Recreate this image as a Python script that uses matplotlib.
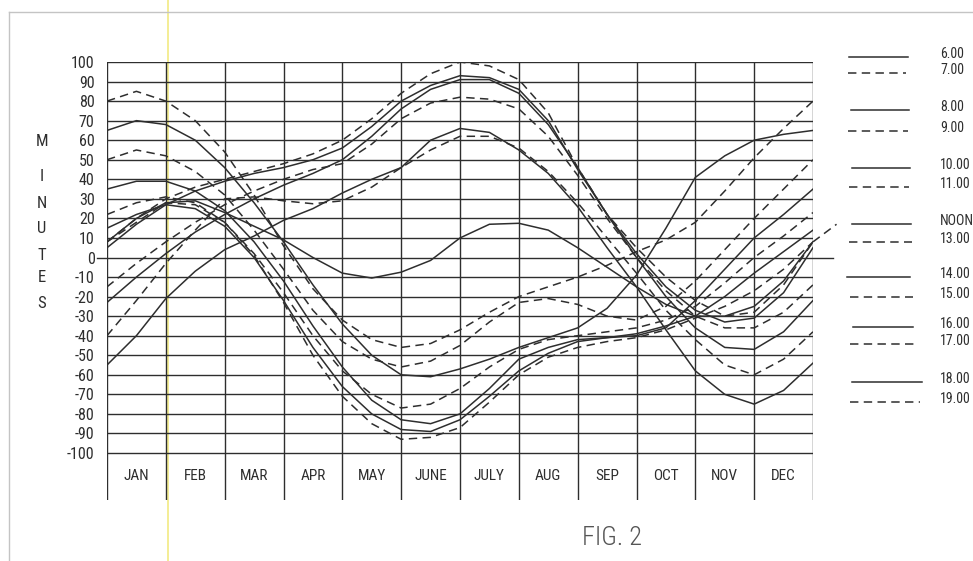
import matplotlib
matplotlib.use("Agg")
import matplotlib.pyplot as plt
from matplotlib.lines import Line2D

# ---------------- data ----------------
months = ["JAN", "FEB", "MAR", "APR", "MAY", "JUNE", "JULY", "AUG", "SEP", "OCT", "NOV", "DEC"]
y_ticks = list(range(-100, 101, 10))
hours = ["6.00", "7.00", "8.00", "9.00", "10.00", "11.00", "NOON",
         "13.00", "14.00", "15.00", "16.00", "17.00", "18.00", "19.00"]
# sample positions (months from start of Jan), half-month steps
t = [i * 0.5 for i in range(25)]

h06 = [65, 70, 68, 60, 46, 28, 8, -14, -34, -50, -60, -61, -57, -52, -46, -41, -36, -26, -9, 15, 41, 52, 60, 63, 65]
h07 = [80, 85, 80, 70, 54, 32, 6, -16, -32, -42, -46, -44, -37, -28, -20, -15, -10, -4, 3, 9, 18, 34, 51, 66, 80]
h08 = [35, 39, 39, 34, 24, 8, -12, -35, -56, -73, -83, -85, -80, -67, -52, -46, -42, -41, -40, -36, -22, -6, 10, 22, 35]
h09 = [50, 55, 52, 44, 32, 14, -6, -27, -43, -52, -56, -53, -45, -33, -23, -21, -24, -30, -32, -25, -12, 4, 20, 35, 50]
h10 = [15, 22, 27, 25, 16, 0, -22, -46, -66, -80, -88, -89, -83, -71, -58, -49, -43, -41, -39, -35, -30, -20, -8, 3, 14]
h11 = [22, 28, 31, 28, 18, 2, -18, -40, -58, -70, -77, -75, -67, -56, -47, -42, -40, -38, -36, -32, -25, -13, 0, 11, 23]
h12 = [8, 20, 28, 29, 23, 16, 9, 0, -8, -10.5, -7.5, -1.5, 10, 17, 17.5, 14, 5, -5, -15, -24, -30, -30, -25, -12, 8]
h13 = [8, 18, 28, 27, 18, 1, -23, -50, -71, -85, -93, -92, -87, -74, -60, -51, -46, -43, -41, -37, -31, -25, -17, -6, 8]
h14 = [5, 17, 27, 34, 39, 43, 46, 50, 56, 67, 80, 88, 93, 92, 86, 70, 45, 22, 2, -15, -27, -33, -31, -18, 5]
h15 = [8, 20, 30, 36, 40, 44, 48, 53, 60, 71, 84, 94, 100, 98, 91, 74, 46, 22, 5, -10, -22, -30, -28, -14, 8]
h16 = [-23, -10, 2, 13, 22, 30, 37, 43, 50, 62, 76, 86, 91, 91, 84, 68, 46, 22, 0, -20, -36, -46, -47, -38, -22]
h17 = [-15, -3, 8, 18, 27, 34, 40, 45, 48, 58, 71, 79, 82, 81, 76, 62, 42, 20, 0, -17, -30, -36, -36, -28, -14]
h18 = [-55, -40, -21, -7, 4, 11, 19, 25, 33, 40, 46, 60, 66, 64, 55, 43, 26, 5, -15, -37, -58, -70, -75, -68, -54]
h19 = [-40, -22, -3, 14, 30, 31, 29, 27.5, 29, 36, 46, 55, 62, 62, 56, 44, 28, 10, -8, -27, -42, -55, -60, -52, -38]
# a dashed curve that runs a little past the December edge
h13_tail_x = [12.0, 12.4]
h13_tail = [8, 17]

series = [h06, h07, h08, h09, h10, h11, h12, h13, h14, h15, h16, h17, h18, h19]

# ---------------- layout ----------------
W, H = 973, 561
INK = "#2e2e2e"
FONT = ["Roboto Condensed", "Roboto", "DejaVu Sans"]
plt.rcParams["font.family"] = FONT

fig = plt.figure(figsize=(W / 100, H / 100), dpi=100)
fig.patch.set_facecolor("white")

L, R, T, B = 107, 813, 62, 500
px_per_unit = (453 - 62) / 200.0
ybot = -100 - (B - 453) / px_per_unit

ax = fig.add_axes([L / W, 1 - B / H, (R - L) / W, (B - T) / H])
ax.set_xlim(0, 12)
ax.set_ylim(ybot, 100)
ax.patch.set_alpha(0)
for s in ax.spines.values():
    s.set_visible(False)

# scan artefacts: faint frame and yellow stripe
fig.add_artist(Line2D([168 / W, 168 / W], [0, 1], color="#f3ec8c", lw=1.3, zorder=-5))
fig.add_artist(Line2D([9 / W, 9 / W], [0, 1 - 12 / H], color="#c4c4c4", lw=1.0, zorder=-5))
fig.add_artist(Line2D([9 / W, 1], [1 - 12 / H, 1 - 12 / H], color="#c4c4c4", lw=1.0, zorder=-5))

# grid
for v in y_ticks:
    if v == 0:
        ax.plot([-0.17, 12.34], [0, 0], color=INK, lw=1.0, clip_on=False, zorder=1)
    else:
        ax.plot([0, 12], [v, v], color=INK, lw=1.0, zorder=1)
ax.vlines(range(13), ybot, 100, color=INK, lw=1.0, zorder=1)

# y ticks
ax.set_yticks(y_ticks)
ax.set_yticklabels([str(v) for v in y_ticks], fontsize=11.5, color=INK)
ax.tick_params(axis="y", length=0, pad=9)
ax.set_xticks([])

# month labels
for i, m in enumerate(months):
    ax.text(i + 0.5, -112, m, ha="center", va="center", fontsize=11, color=INK)

# vertical axis title
for ch, py in zip("MINUTES", [142, 177, 203, 228, 255, 277, 303]):
    fig.text(42 / W, 1 - py / H, ch, ha="center", va="center", fontsize=12, color=INK)

# curves
DASH = (0, (5.5, 3.5))
for k, ys in enumerate(series):
    ls = "-" if k % 2 == 0 else DASH
    ax.plot(t, ys, color=INK, lw=1.1, linestyle=ls, zorder=3)
ax.plot(h13_tail_x, h13_tail, color=INK, lw=1.1, linestyle=DASH, clip_on=False, zorder=3)

# legend (drawn as a key at the right)
key_y = [57, 73, 110, 131, 168, 187, 224, 242, 277, 297, 327, 344, 382, 402]
key_x0 = [849, 848, 851, 848, 852, 849, 852, 849, 847, 850, 853, 850, 852, 850]
key_x1 = [908, 906, 909, 908, 910, 909, 911, 912, 910, 913, 913, 915, 922, 920]
for k, lab in enumerate(hours):
    ls = "-" if k % 2 == 0 else DASH
    yy = 1 - key_y[k] / H
    fig.add_artist(Line2D([key_x0[k] / W, key_x1[k] / W], [yy, yy], color=INK, lw=1.1, linestyle=ls))
    fig.text(940 / W, 1 - (key_y[k] - 3) / H, lab, ha="left", va="center", fontsize=10, color=INK)

fig.text(612 / W, 1 - 538 / H, "FIG. 2", ha="center", va="center", fontsize=19,
         fontweight="light", color="#555555")

fig.savefig("out.png", dpi=100, facecolor="white")
